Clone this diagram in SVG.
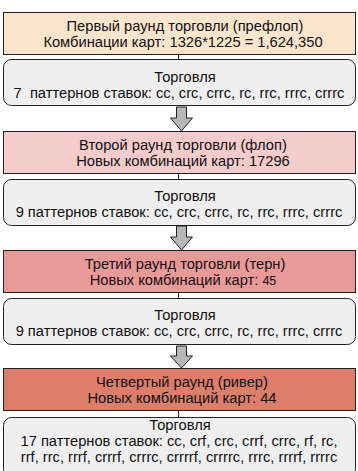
<svg xmlns="http://www.w3.org/2000/svg" width="358" height="471" viewBox="0 0 358 471">
<style>
.rnd{stroke:#222;stroke-width:1}
.trd{fill:#efefef;stroke:#222;stroke-width:1}
.t{font-family:"Liberation Sans",Arial,sans-serif;font-size:14.7px;fill:#111;text-anchor:middle}
.arr{fill:#b7b7b7;stroke:#222;stroke-width:1}
.ln{stroke:#222;stroke-width:1}
</style>
<g id="connectors">
<line class="ln" x1="178.5" y1="54" x2="178.5" y2="59"/>
<line class="ln" x1="178.5" y1="174" x2="178.5" y2="179"/>
<line class="ln" x1="178.5" y1="293" x2="178.5" y2="298"/>
<line class="ln" x1="178.5" y1="411" x2="178.5" y2="417"/>
<path class="arr" d="M176.5,107 H186.5 V118 H192.5 L181.5,131 L170.5,118 H176.5 Z"/>
<path class="arr" d="M176.5,226 H186.5 V237 H192.5 L181.5,250 L170.5,237 H176.5 Z"/>
<path class="arr" d="M176.5,346 H186.5 V356 H192.5 L181.5,368 L170.5,356 H176.5 Z"/>
</g>
<g id="round1">
<rect class="rnd" x="3.5" y="12.5" width="352" height="42" fill="#fce5cd"/>
<text class="t" x="185" y="31">Первый раунд торговли (префлоп)</text>
<text class="t" x="183" y="47">Комбинации карт: 1326*1225 = 1,624,350</text>
</g>
<g id="trade1">
<rect class="trd" x="3.5" y="59.5" width="352" height="46" rx="8"/>
<text class="t" x="185" y="82">Торговля</text>
<text class="t" x="179" y="98" xml:space="preserve">7  паттернов ставок: cc, crc, crrc, rc, rrc, rrrc, crrrc</text>
</g>
<g id="round2">
<rect class="rnd" x="3.5" y="131.5" width="352" height="42" fill="#f4cccc"/>
<text class="t" x="183" y="150">Второй раунд торговли (флоп)</text>
<text class="t" x="183" y="166">Новых комбинаций карт: 17296</text>
</g>
<g id="trade2">
<rect class="trd" x="3.5" y="179.5" width="352" height="46" rx="8"/>
<text class="t" x="185" y="201">Торговля</text>
<text class="t" x="179" y="217">9 паттернов ставок: cc, crc, crrc, rc, rrc, rrrc, crrrc</text>
</g>
<g id="round3">
<rect class="rnd" x="3.5" y="250.5" width="352" height="42" fill="#ea9999"/>
<text class="t" x="185" y="269">Третий раунд торговли (терн)</text>
<text class="t" x="183" y="285">Новых комбинаций карт: <tspan font-size="12.5">45</tspan></text>
</g>
<g id="trade3">
<rect class="trd" x="3.5" y="298.5" width="352" height="46" rx="8"/>
<text class="t" x="185" y="320">Торговля</text>
<text class="t" x="179" y="336">9 паттернов ставок: cc, crc, crrc, rc, rrc, rrrc, crrrc</text>
</g>
<g id="round4">
<rect class="rnd" x="3.5" y="368.5" width="352" height="42" fill="#dd7e6b"/>
<text class="t" x="182" y="387">Четвертый раунд (ривер)</text>
<text class="t" x="182" y="403">Новых комбинаций карт: 44</text>
</g>
<g id="trade4">
<rect class="trd" x="3.5" y="417.5" width="352" height="60" rx="8"/>
<text class="t" x="180" y="430">Торговля</text>
<text class="t" x="179" y="446">17 паттернов ставок: cc, crf, crc, crrf, crrc, rf, rc,</text>
<text class="t" x="179" y="462">rrf, rrc, rrrf, crrrf, crrrc, crrrrf, crrrrc, rrrc, rrrrf, rrrrc</text>
</g>
</svg>
